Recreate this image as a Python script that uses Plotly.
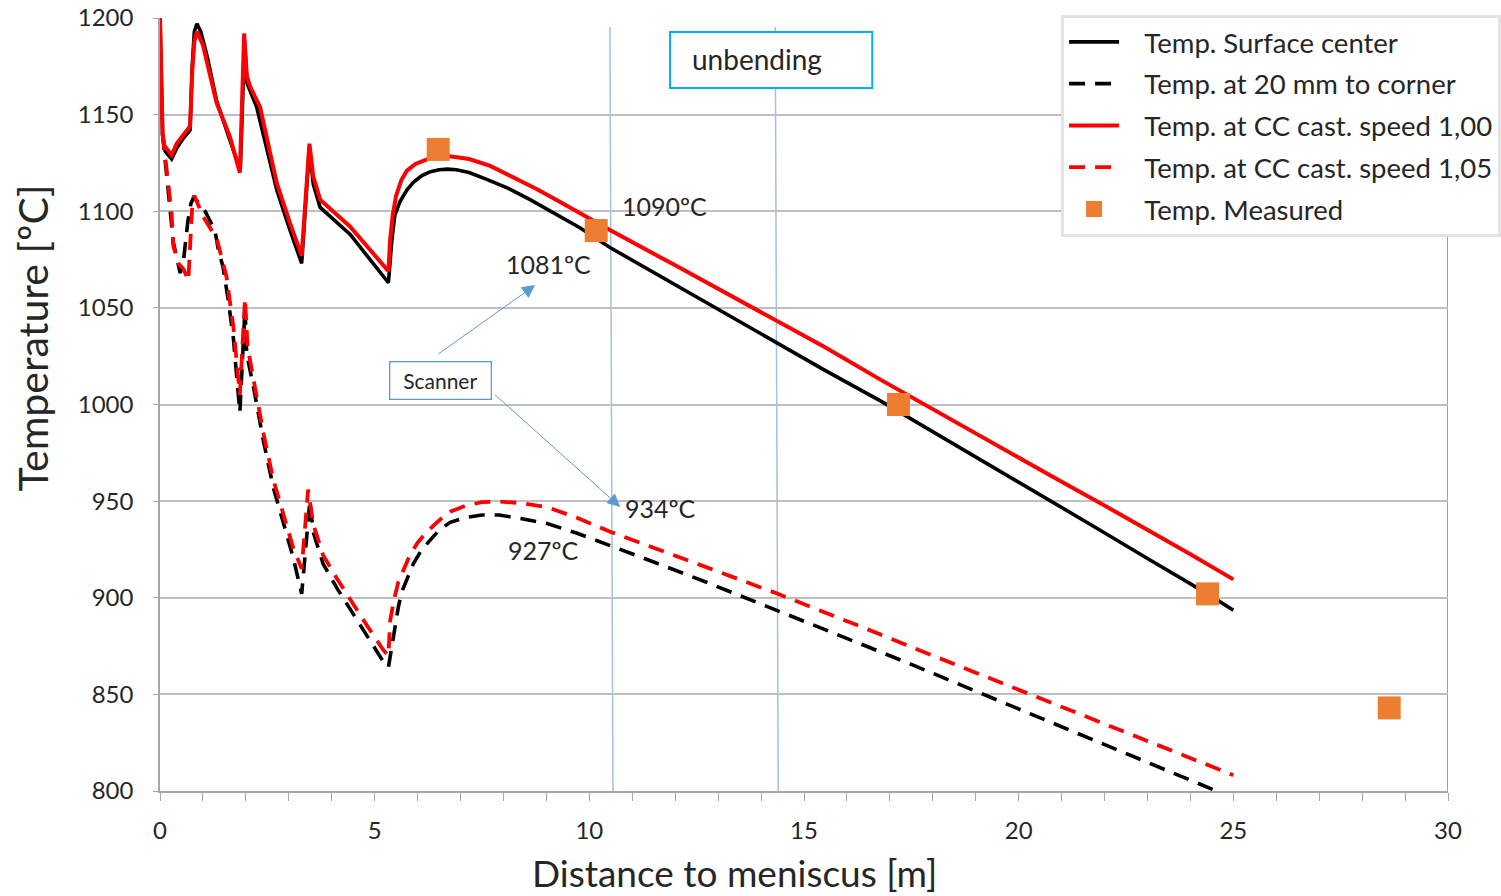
import plotly.graph_objects as go

# Distance to meniscus [m] and temperatures [ºC]
surface_x = [0.00, 0.06, 0.12, 0.27, 0.40, 0.52, 0.70, 0.75, 0.80, 0.86, 0.95, 1.10, 1.32, 1.63, 1.87,
             1.97, 2.03, 2.25, 2.72, 3.00, 3.30, 3.48, 3.57, 3.73, 4.43, 5.32, 5.40, 5.47, 5.59, 5.75,
             5.90, 6.10, 6.30, 6.50, 6.70, 6.90, 7.20, 7.61, 8.10, 8.62, 9.20, 9.78, 10.50, 12.00,
             13.00, 14.36, 15.50, 16.77, 18.00, 19.00, 20.00, 21.00, 21.82, 23.06, 24.40, 25.00]
surface_t = [1200, 1140, 1131, 1127, 1133, 1137, 1142, 1175, 1193, 1197, 1193, 1180, 1157, 1137, 1121,
             1188, 1166, 1154, 1111, 1092, 1073, 1133, 1114, 1102, 1088, 1063, 1085, 1098, 1105, 1111,
             1115, 1118.5, 1120.5, 1121.5, 1121.8, 1121.5, 1120, 1116.5, 1112, 1106, 1099, 1091.5, 1081, 1062,
             1049, 1032, 1017.5, 1002, 986, 973, 960, 947, 936, 919.5, 902, 893.5]

corner_x = [0.06, 0.12, 0.23, 0.31, 0.47, 0.55, 0.65, 0.72, 0.78, 0.93, 1.05, 1.28, 1.36, 1.47, 1.59,
            1.71, 1.86, 1.98, 2.02, 2.17, 2.41, 2.64, 2.87, 3.10, 3.30, 3.49, 3.57, 3.80, 4.12, 4.43,
            4.81, 5.20, 5.32, 5.44, 5.55, 5.63, 5.75, 5.90, 6.10, 6.29, 6.50, 6.76, 7.10, 7.50, 7.90,
            8.40, 9.00, 9.70, 10.50, 11.50, 12.73, 14.36, 15.50, 16.50, 17.50, 18.56, 19.50, 20.77,
            21.80, 22.90, 23.70, 24.50, 25.00]
corner_t = [1140, 1126, 1100, 1084, 1068, 1075, 1095, 1104, 1107, 1104, 1100, 1090, 1080, 1071, 1054,
            1034, 996, 1050, 1026, 1010, 981, 957, 939, 921, 902, 950, 934, 917.5, 905, 894,
            881, 867, 864, 881, 895, 903, 910, 917.5, 925, 930, 935, 939, 941.5, 942.8, 942.8,
            941, 938.5, 933.5, 927, 918.5, 908, 893.7, 883.5, 874.5, 865.5, 855.7, 847, 835.5,
            825.5, 815.5, 808, 801, 796.5]

speed100_x = [0.00, 0.06, 0.10, 0.27, 0.39, 0.50, 0.70, 0.75, 0.80, 0.86, 1.00, 1.32, 1.63, 1.86, 1.96,
              2.02, 2.10, 2.33, 2.72, 3.03, 3.30, 3.48, 3.57, 3.73, 4.43, 5.32, 5.36, 5.42, 5.50, 5.62,
              5.75, 5.95, 6.29, 6.75, 7.20, 7.69, 8.20, 8.77, 9.30, 9.78, 10.50, 12.00, 13.00, 14.36,
              15.50, 16.77, 18.00, 19.00, 20.00, 21.00, 21.82, 23.06, 24.00, 25.00]
speed100_t = [1200, 1140, 1134, 1129, 1135, 1138, 1144, 1172, 1188, 1193, 1186, 1156, 1138.5, 1120, 1192,
              1170, 1164.5, 1154, 1114.5, 1093.7, 1077, 1135, 1118, 1106, 1092, 1069, 1085, 1098, 1108, 1116,
              1121, 1124.5, 1127.5, 1128.5, 1127, 1123.5, 1118, 1111.5, 1105, 1099, 1090, 1072, 1060, 1043.7,
              1029.5, 1013, 997.5, 985, 972.5, 960, 950, 934.5, 922.5, 909.5]

speed105_x = [0.06, 0.19, 0.27, 0.31, 0.43, 0.55, 0.66, 0.72, 0.76, 0.80, 1.01, 1.32, 1.55, 1.71, 1.86,
              1.98, 2.04, 2.17, 2.41, 2.64, 2.87, 3.10, 3.30, 3.45, 3.57, 3.80, 4.12, 4.43, 4.81, 5.20,
              5.32, 5.36, 5.45, 5.55, 5.70, 5.82, 6.00, 6.21, 6.50, 6.76, 7.10, 7.50, 7.90, 8.40, 9.00,
              9.70, 10.50, 11.50, 12.58, 14.36, 15.50, 16.50, 17.50, 18.40, 19.92, 21.00, 22.05, 23.00,
              24.00, 24.88, 25.00]
speed105_t = [1140, 1116, 1099, 1082, 1073, 1070, 1064, 1090, 1106, 1108, 1097, 1086, 1066, 1040, 1005,
              1055, 1030, 1014, 985, 961, 943, 926, 915, 956, 938, 922, 910, 899, 886, 873,
              870, 888, 899, 908, 916, 922, 928.5, 934, 940, 944.5, 947.5, 949.5, 949.8, 949, 947,
              941.5, 934, 926, 917, 902.3, 892.5, 883.5, 874.5, 866.5, 853, 843.5, 834.5, 826,
              817, 809.2, 808.2]

measured_x = [6.48, 10.16, 17.20, 24.40, 28.63]
measured_t = [1132, 1090, 1000, 902, 843]

series_names = ["Temp. Surface center", "Temp. at 20 mm to corner",
                "Temp. at CC cast. speed 1,00", "Temp. at CC cast. speed 1,05", "Temp. Measured"]

# Scanner position readings
scanner_labels = ["1090ºC", "1081ºC", "934ºC", "927ºC"]

FONT = "Lato"
TXT = "#262626"
GRID = "#bfbfbf"
AXIS = "#a6a6a6"
BLUE = "#5b9bd5"
LIGHTBLUE = "#9dc3e6"
NB = "\u00a0\u00a0\u00a0"

fig = go.Figure()

line_specs = [
    (surface_x, surface_t, "#000000", "solid", 3.6),
    (corner_x, corner_t, "#000000", "16px,10px", 3.6),
    (speed100_x, speed100_t, "#ff0000", "solid", 4),
    (speed105_x, speed105_t, "#ff0000", "16px,10px", 3.8),
]
for i, (xs, ts, col, dash, w) in enumerate(line_specs):
    fig.add_trace(go.Scatter(
        x=xs, y=ts, mode="lines", name=NB + series_names[i], legendgroup=f"g{i}",
        line=dict(color=col, width=w, dash=dash),
        hovertemplate=series_names[i] + "<br>%{x} m, %{y} ºC<extra></extra>",
    ))

fig.add_trace(go.Scatter(
    x=measured_x, y=measured_t, mode="markers", name=NB + series_names[4], legendgroup="g4",
    marker=dict(symbol="square", size=23, color="#ed7d31", line=dict(width=0)),
    hovertemplate=series_names[4] + "<br>%{x} m, %{y} ºC<extra></extra>",
))

shapes = []
# scanner and unbending reference lines
shapes.append(dict(type="line", xref="x", yref="y", x0=10.48, y0=1195.3, x1=10.55, y1=800,
                   line=dict(color=LIGHTBLUE, width=1.5), layer="below"))
shapes.append(dict(type="line", xref="x", yref="y", x0=14.33, y0=1195.3, x1=14.40, y1=800,
                   line=dict(color=LIGHTBLUE, width=1.5), layer="below"))
# right frame line
shapes.append(dict(type="line", xref="x", yref="y", x0=30, y0=800, x1=30, y1=1200,
                   line=dict(color="#7f7f7f", width=1.5), layer="below"))
# "unbending" box
shapes.append(dict(type="rect", xref="x", yref="y", x0=11.88, y0=1163.8, x1=16.59, y1=1192.8,
                   line=dict(color="#00b0f0", width=2), fillcolor="white", layer="above"))

annotations = []
annotations.append(dict(x=12.35, y=1178.6, xref="x", yref="y", text="unbending", showarrow=False,
                        xanchor="left", yanchor="middle", font=dict(family=FONT, size=28, color=TXT)))

# Scanner box with two arrows
annotations.append(dict(x=6.53, y=1012.6, xref="x", yref="y", text="Scanner", showarrow=False,
                        xanchor="center", yanchor="middle",
                        font=dict(family=FONT, size=21, color=TXT), bgcolor="white",
                        bordercolor=BLUE, borderwidth=1.3, width=98, height=34, borderpad=1))
annotations.append(dict(x=8.74, y=1061.8, ax=6.45, ay=1025.6, xref="x", yref="y", axref="x", ayref="y",
                        text="", showarrow=True, arrowhead=2, arrowsize=2.6, arrowwidth=1,
                        arrowcolor=BLUE))
annotations.append(dict(x=10.72, y=947, ax=7.76, ay=1005.9, xref="x", yref="y", axref="x", ayref="y",
                        text="", showarrow=True, arrowhead=2, arrowsize=2.6, arrowwidth=1,
                        arrowcolor=BLUE))

# temperature labels at the scanner
label_pos = [(11.76, 1102.7), (9.04, 1072.7), (11.65, 946.4), (8.94, 924.7)]
for (lx, ly), txt in zip(label_pos, scanner_labels):
    annotations.append(dict(x=lx, y=ly, xref="x", yref="y", text=txt, showarrow=False,
                            xanchor="center", yanchor="middle",
                            font=dict(family=FONT, size=25, color=TXT)))

# axis titles
annotations.append(dict(x=-0.0994, y=0.587, xref="paper", yref="paper", text="Temperature [ºC]",
                        showarrow=False, textangle=-90, xanchor="center", yanchor="middle",
                        font=dict(family=FONT, size=41, color=TXT)))
annotations.append(dict(x=0.4457, y=-0.1055, xref="paper", yref="paper", text="Distance to meniscus [m]",
                        showarrow=False, xanchor="center", yanchor="middle",
                        font=dict(family=FONT, size=37, color=TXT)))

fig.update_layout(
    width=1501, height=896,
    margin=dict(l=160, r=53, t=18, b=105, autoexpand=False),
    paper_bgcolor="white", plot_bgcolor="white",
    font=dict(family=FONT, color=TXT),
    shapes=shapes, annotations=annotations,
    showlegend=True,
    legend=dict(x=1.0412, y=1.0045, xanchor="right", yanchor="top",
                bgcolor="white", bordercolor="#e3e3e3", borderwidth=3,
                font=dict(family=FONT, size=27.5, color=TXT), tracegroupgap=3,
                itemwidth=50),
    xaxis=dict(range=[0, 30], dtick=5, tick0=0, showgrid=False, zeroline=False,
               showline=True, linecolor=AXIS, linewidth=1.5,
               ticks="outside", ticklen=8, tickcolor=AXIS, tickwidth=1,
               minor=dict(dtick=1, ticks="outside", ticklen=8, tickcolor=AXIS, showgrid=False),
               tickfont=dict(family=FONT, size=24, color=TXT), ticklabelstandoff=9),
    yaxis=dict(range=[800, 1200], dtick=50, showgrid=True, gridcolor=GRID, gridwidth=1.5,
               zeroline=False, showline=True, linecolor=AXIS, linewidth=1.5,
               ticks="outside", ticklen=5, tickcolor=AXIS,
               tickfont=dict(family=FONT, size=24, color=TXT), ticklabelstandoff=15),
)

fig.write_html("out.html")
